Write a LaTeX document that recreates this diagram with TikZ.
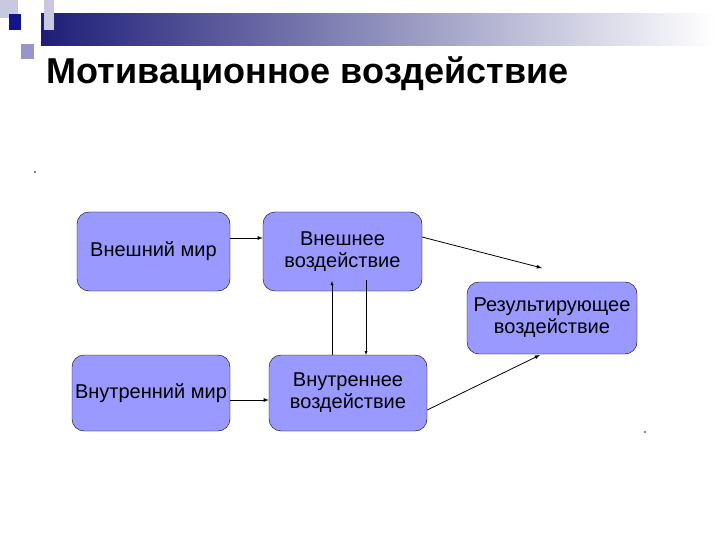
\documentclass[tikz,border=0pt]{standalone}
\usepackage{fontspec}
\setmainfont{Liberation Sans}
\definecolor{boxc}{RGB}{153,153,255}
\definecolor{navy}{RGB}{30,30,120}
\definecolor{sqa}{RGB}{200,200,225}
\definecolor{sqb}{RGB}{150,150,200}
\definecolor{sqc}{RGB}{20,20,140}
\begin{document}
\begin{tikzpicture}[x=1pt,y=-1pt,
 box/.style={draw=black,fill=boxc,rounded corners=12pt,align=center,font=\fontsize{20}{22}\selectfont,inner sep=0pt},
 arr/.style={-latex,thick}]
\useasboundingbox (0,0) rectangle (720,540);
\fill[white] (0,0) rectangle (720,540);
\shade[left color=navy,right color=white] (41,14) rectangle (715,46);
\fill[sqa] (0,0) rectangle (18,18);
\fill[sqa] (44,0) rectangle (54,30);
\fill[sqb] (21,44) rectangle (34,59);
\fill[sqc] (9,14) rectangle (21,30);
\node[anchor=west,font=\bfseries\fontsize{36}{40}\selectfont] (title) at (43,74) {Мотивационное воздействие};
\node[box,minimum width=153pt,minimum height=79pt] (vm) at (153.5,251.5) {Внешний мир};
\node[box,minimum width=159pt,minimum height=79pt] (vv) at (342.5,251.5) {Внешнее\\воздействие};
\node[box,minimum width=170pt,minimum height=72pt] (rv) at (552,318) {Результирующее\\воздействие};
\node[box,minimum width=158pt,minimum height=76pt] (im) at (151,393) {Внутренний мир};
\node[box,minimum width=158pt,minimum height=76pt] (iv) at (348,393) {Внутреннее\\воздействие};
\coordinate (f) at (542,268);
\draw[arr] (vm.east |- 0,238) -- (vv.west |- 0,238);
\draw[arr] (im.east |- 0,400) -- (iv.west |- 0,400);
\draw[arr] (422,237) -- (f);
\draw[arr] (iv.east |- 0,410) -- (540,355);
\draw[-latex] (332,355) -- (332,281);
\draw[-latex] (366,280) -- (366,355);
\fill (35,172) circle (0.8);
\fill (645,432) circle (0.8);
\end{tikzpicture}
\end{document}
